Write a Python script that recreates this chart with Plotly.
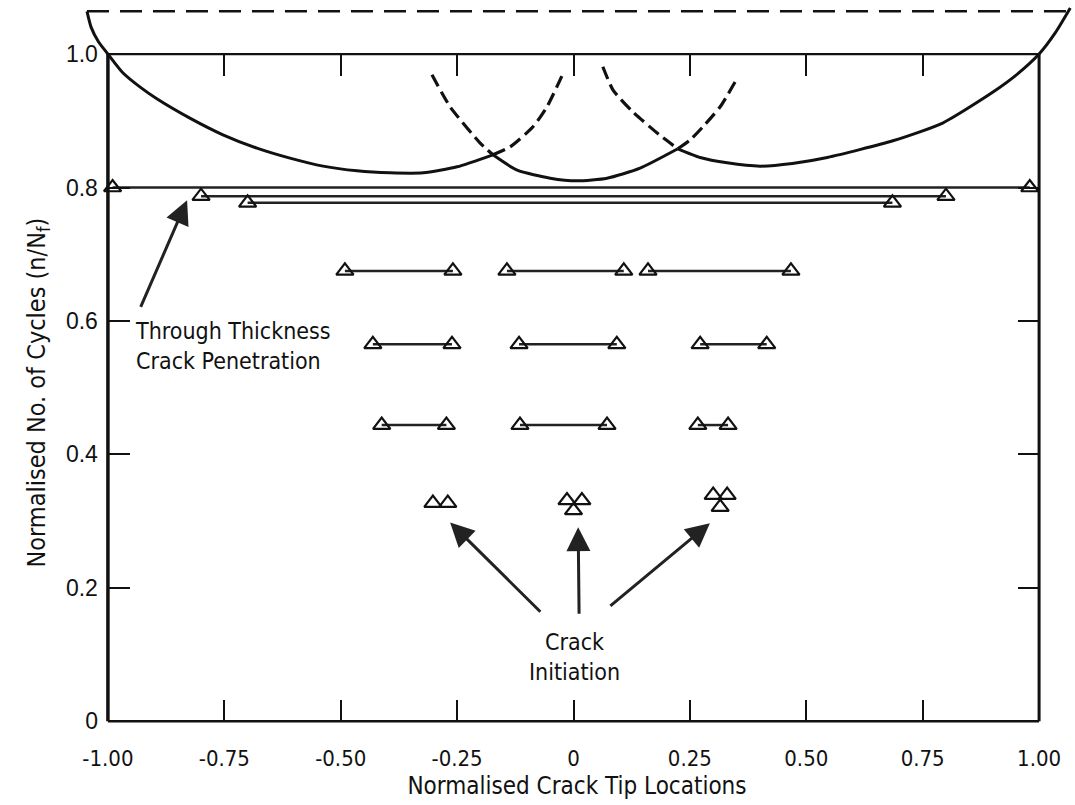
import plotly.graph_objects as go

# ---------------- data ----------------
# crack-front envelope curves
left_solid_x = [-1.045, -1.036, -1.02, -1.0, -0.968, -0.93, -0.895, -0.824, -0.753, -0.680, -0.609, -0.538, -0.465, -0.394, -0.323, -0.250, -0.173]
left_solid_y = [1.064, 1.040, 1.018, 1.0, 0.972, 0.950, 0.933, 0.904, 0.879, 0.859, 0.844, 0.832, 0.825, 0.822, 0.822, 0.831, 0.849]
left_dash_x = [-0.173, -0.136, -0.087, -0.057, -0.029, -0.020]
left_dash_y = [0.849, 0.861, 0.891, 0.921, 0.961, 0.975]

mid_dash_l_x = [-0.304, -0.265, -0.201, -0.173]
mid_dash_l_y = [0.969, 0.921, 0.867, 0.849]
mid_solid_x = [-0.173, -0.121, -0.050, 0.008, 0.072, 0.143, 0.224]
mid_solid_y = [0.849, 0.826, 0.814, 0.810, 0.814, 0.829, 0.858]
mid_dash_r_x = [0.224, 0.250, 0.278, 0.315, 0.347]
mid_dash_r_y = [0.858, 0.871, 0.891, 0.921, 0.958]

right_dash_x = [0.063, 0.085, 0.128, 0.186, 0.224]
right_dash_y = [0.981, 0.946, 0.913, 0.878, 0.858]
right_solid_x = [0.224, 0.272, 0.330, 0.401, 0.470, 0.545, 0.686, 0.794, 0.901, 0.950, 1.0, 1.035, 1.067]
right_solid_y = [0.858, 0.845, 0.837, 0.832, 0.836, 0.845, 0.870, 0.897, 0.943, 0.968, 1.0, 1.032, 1.069]

top_dash_x = [-1.045, 1.067]
top_dash_y = [1.064, 1.064]

# crack tip pairs (left tip, right tip, cycles)
through_left = [-0.99, -0.80, -0.70]
through_right = [0.98, 0.80, 0.685]
through_y = [0.800, 0.787, 0.777]

row_a_left = [-0.491, -0.143, 0.160]
row_a_right = [-0.259, 0.108, 0.467]
row_a_y = 0.675

row_b_left = [-0.431, -0.117, 0.272]
row_b_right = [-0.261, 0.093, 0.415]
row_b_y = 0.565

row_c_left = [-0.412, -0.115, 0.267]
row_c_right = [-0.273, 0.072, 0.332]
row_c_y = 0.444

init_x = [-0.302, -0.270, -0.014, 0.018, 0.0, 0.300, 0.330, 0.315]
init_y = [0.327, 0.327, 0.331, 0.331, 0.316, 0.339, 0.339, 0.321]

# axes
x_ticks = [-1.0, -0.75, -0.5, -0.25, 0.0, 0.25, 0.5, 0.75, 1.0]
x_ticktext = ["-1.00", "-0.75", "-0.50", "-0.25", "0", "0.25", "0.50", "0.75", "1.00"]
y_ticks = [0.0, 0.2, 0.4, 0.6, 0.8, 1.0]
y_ticktext = ["0", "0.2", "0.4", "0.6", "0.8", "1.0"]
x_lo, x_hi = -1.0, 1.0
y_lo, y_hi = 0.0, 1.0

X_RANGE = [-1.06, 1.075]
Y_RANGE = [-0.01, 1.075]

INK = "#111111"
TXT_FONT = "DejaVu Sans Condensed, Liberation Sans Narrow, Roboto Condensed, DejaVu Sans, sans-serif"

fig = go.Figure()

def add_line(x, y, dash="solid", width=3, xaxis="x", yaxis="y"):
    fig.add_trace(go.Scatter(x=x, y=y, mode="lines", xaxis=xaxis, yaxis=yaxis,
                             line=dict(color=INK, width=width, dash=dash, shape="spline", smoothing=0.6),
                             hoverinfo="skip", showlegend=False))

# frame
add_line([x_lo, x_lo], [y_lo, y_hi], width=3.5)
add_line([x_hi, x_hi], [y_lo, y_hi], width=3, yaxis="y2")
add_line([x_lo, x_hi], [y_lo, y_lo], width=2.5)
add_line([x_lo, x_hi], [y_hi, y_hi], width=2.2)
add_line(top_dash_x, top_dash_y, dash="22px,11px", width=2.5, xaxis="x2")

# curves
add_line(left_solid_x, left_solid_y)
add_line(left_dash_x, left_dash_y, dash="13px,6px", width=3.2)
add_line(mid_dash_l_x, mid_dash_l_y, dash="13px,6px", width=3.2)
add_line(mid_solid_x, mid_solid_y)
add_line(mid_dash_r_x, mid_dash_r_y, dash="13px,6px", width=3.2)
add_line(right_dash_x, right_dash_y, dash="13px,6px", width=3.2)
add_line(right_solid_x, right_solid_y)

def pairs(lefts, rights, ys):
    xs, yy = [], []
    for a, b, y in zip(lefts, rights, ys):
        xs += [a, b, None]
        yy += [y, y, None]
    return xs, yy

marker = dict(symbol="triangle-up-open", size=15, color=INK, line=dict(width=2.2, color=INK))
for L, R, Y in [(through_left, through_right, through_y),
                (row_a_left, row_a_right, [row_a_y] * 3),
                (row_b_left, row_b_right, [row_b_y] * 3),
                (row_c_left, row_c_right, [row_c_y] * 3)]:
    xs, ys = pairs(L, R, Y)
    fig.add_trace(go.Scatter(x=xs, y=ys, mode="lines+markers",
                             line=dict(color="#222222", width=2.5), marker=marker,
                             hoverinfo="skip", showlegend=False))

fig.add_trace(go.Scatter(x=init_x, y=init_y, mode="markers", marker=marker,
                         hoverinfo="skip", showlegend=False))

# annotations
arrow = dict(showarrow=True, arrowhead=2, arrowsize=1.6, arrowwidth=3, arrowcolor="#222222",
             axref="x", ayref="y", text="", xref="x", yref="y")
fig.add_annotation(x=-0.830, y=0.781, ax=-0.931, ay=0.619, **arrow)
fig.add_annotation(x=-0.265, y=0.298, ax=-0.068, ay=0.162, **arrow)
fig.add_annotation(x=0.010, y=0.291, ax=0.012, ay=0.159, **arrow)
fig.add_annotation(x=0.293, y=0.297, ax=0.076, ay=0.171, **arrow)

fig.add_annotation(x=-0.946, y=0.562, xref="x", yref="y", showarrow=False,
                   text="Through Thickness<br>Crack Penetration", xanchor="left", yanchor="middle",
                   align="left", font=dict(family=TXT_FONT, size=23, color=INK))
fig.add_annotation(x=0.003, y=0.097, xref="x", yref="y", showarrow=False,
                   text="Crack<br>Initiation", xanchor="center", yanchor="middle",
                   align="center", font=dict(family=TXT_FONT, size=23, color=INK))

# y-axis title (placed as rotated text left of the tick labels)
fig.add_annotation(x=-0.042, y=0.493, xref="paper", yref="y", showarrow=False, textangle=-90,
                   text="Normalised No. of Cycles (n/N<sub>f</sub>)", xanchor="center", yanchor="middle",
                   font=dict(family=TXT_FONT, size=25, color=INK))

xpos0 = (0 - Y_RANGE[0]) / (Y_RANGE[1] - Y_RANGE[0])
xpos1 = (1.0 - Y_RANGE[0]) / (Y_RANGE[1] - Y_RANGE[0])
ypos0 = (-1.0 - X_RANGE[0]) / (X_RANGE[1] - X_RANGE[0])
ypos1 = (1.0 - X_RANGE[0]) / (X_RANGE[1] - X_RANGE[0])

fig.update_layout(
    width=1075, height=805,
    margin=dict(l=80, r=1, t=4, b=77),
    paper_bgcolor="white", plot_bgcolor="white",
    showlegend=False,
    xaxis=dict(range=X_RANGE, anchor="free", position=xpos0, tickvals=x_ticks, ticktext=x_ticktext,
               ticks="inside", ticklen=21, tickwidth=2, tickcolor=INK, showline=False,
               showgrid=False, zeroline=False, ticklabelstandoff=22,
               tickfont=dict(family=TXT_FONT, size=22, color=INK),
               title=dict(text="Normalised Crack Tip Locations", standoff=6,
                          font=dict(family=TXT_FONT, size=24, color=INK))),
    xaxis2=dict(range=X_RANGE, overlaying="x", matches="x", anchor="free", position=xpos1, side="top",
                tickvals=x_ticks[1:-1], ticks="inside", ticklen=21, tickwidth=2, tickcolor=INK,
                showticklabels=False, showline=False, showgrid=False, zeroline=False),
    yaxis=dict(range=Y_RANGE, anchor="free", position=ypos0, tickvals=y_ticks, ticktext=y_ticktext,
               ticks="inside", ticklen=21, tickwidth=2, tickcolor=INK, showline=False,
               showgrid=False, zeroline=False, ticklabelstandoff=10,
               tickfont=dict(family="Liberation Sans, Arial, sans-serif", size=23, color=INK)),
    yaxis2=dict(range=Y_RANGE, overlaying="y", matches="y", anchor="free", position=ypos1, side="right",
                tickvals=y_ticks[1:-1], ticks="inside", ticklen=21, tickwidth=2, tickcolor=INK,
                showticklabels=False, showline=False, showgrid=False, zeroline=False),
)

fig.write_html("out.html")
